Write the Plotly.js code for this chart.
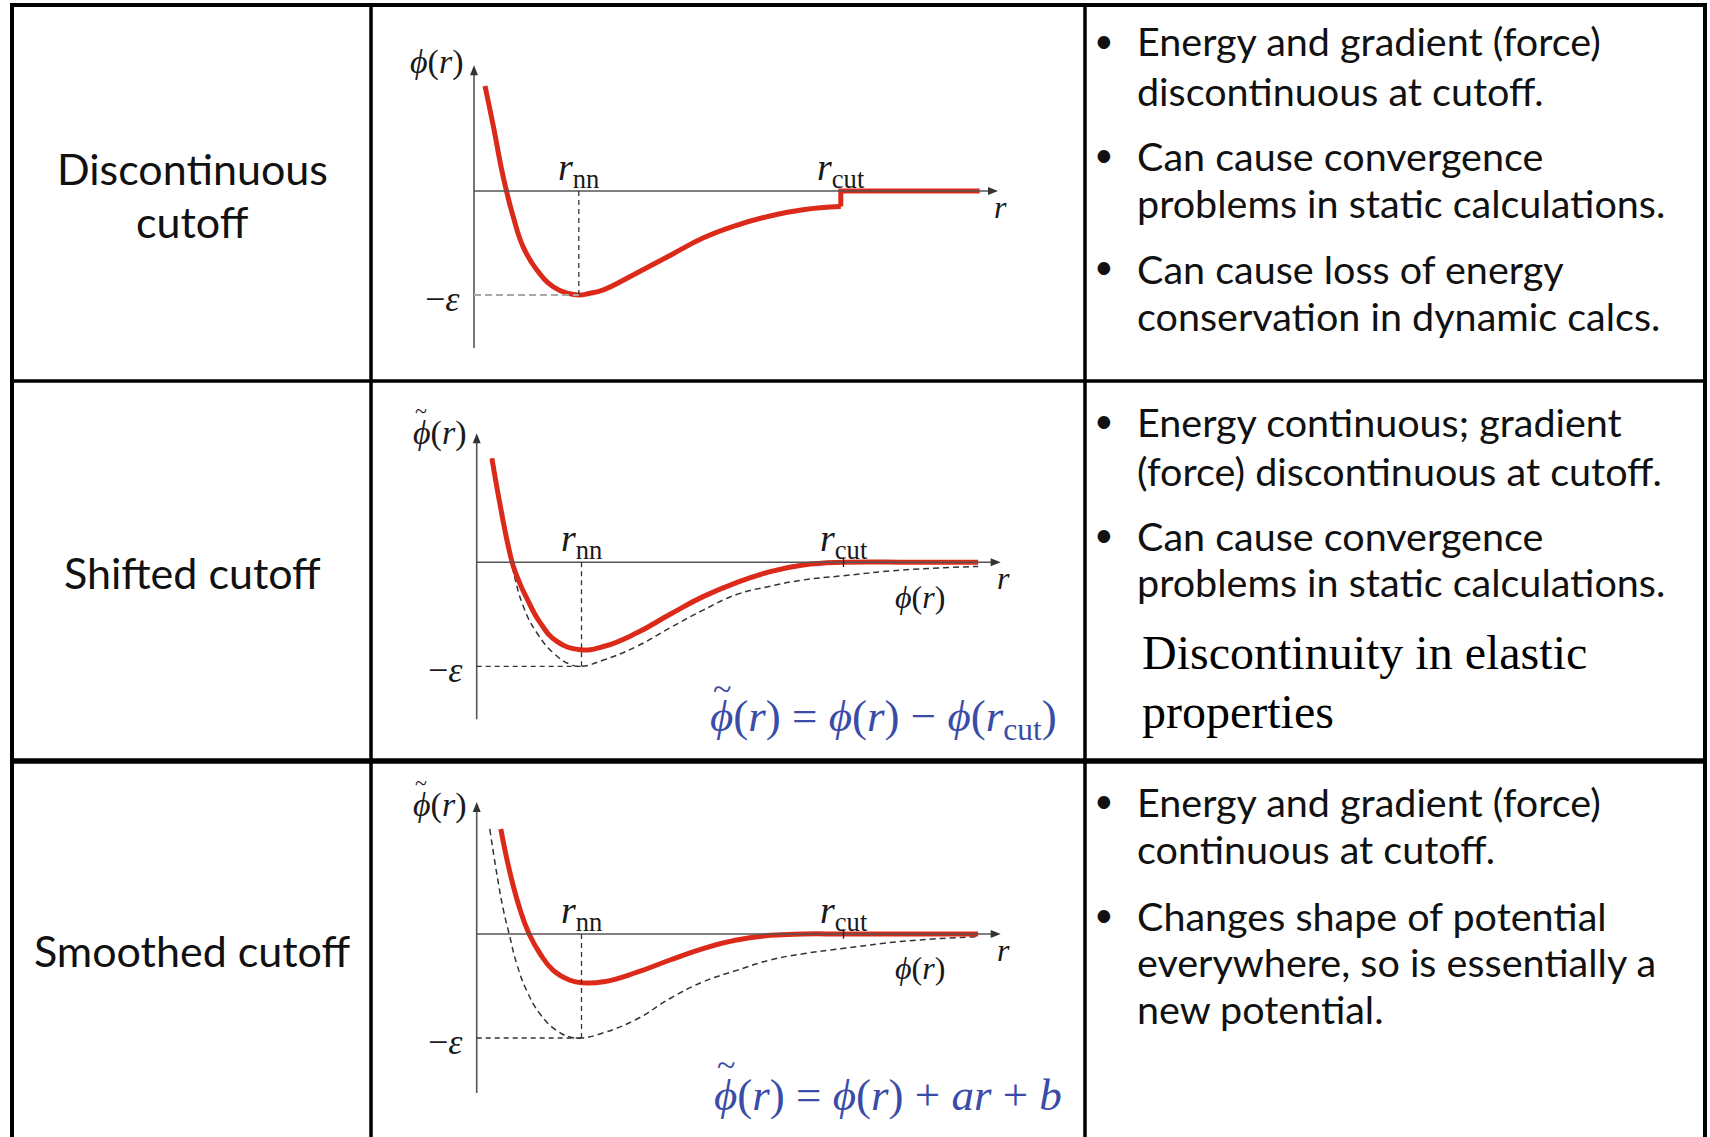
<!DOCTYPE html>
<html>
<head>
<meta charset="utf-8">
<script src="https://cdn.plot.ly/plotly-3.0.1.min.js"></script>
<style>
  html, body { margin: 0; padding: 0; background: #ffffff; }
  #chart { width: 1710px; height: 1137px; }
</style>
</head>
<body>
<div id="chart"></div>
<script>
// ---------- page size ----------
const W = 1710, H = 1137;

// ---------- key radii (plot units) ----------
const R_NN = 2.0;
const R_CUT = 7.0;
const R_END = 10.0;
const MINUS_EPS = -1.0;

// ---------- row 1: plain truncation, jump at r_cut ----------
const rDisc   = [0.21, 0.37, 0.53, 0.62, 0.75, 0.94, 1.20, 1.51, 1.80, 2.00, 2.20, 2.47, 3.10, 3.74, 4.38, 5.01, 5.65, 6.28, 7.00];
const phiDisc = [1.01, 0.62, 0.20, 0.00, -0.25, -0.54, -0.76, -0.92, -0.985, -1.00, -0.985, -0.95, -0.79, -0.62, -0.45, -0.33, -0.24, -0.18, -0.15];
const rDiscTail   = [7.00, 7.00, 9.65];
const phiDiscTail = [-0.15, 0.00, 0.00];

// ---------- row 2: shifted potential and the original phi(r) ----------
const rShift   = [0.29, 0.44, 0.60, 0.70, 0.82, 0.95, 1.21, 1.53, 1.97, 2.42, 3.05, 3.69, 4.32, 4.96, 5.60, 6.23, 7.00, 8.30, 9.57];
const phiShift = [1.00, 0.57, 0.16, -0.04, -0.20, -0.34, -0.58, -0.76, -0.84, -0.81, -0.68, -0.50, -0.33, -0.195, -0.09, -0.026, 0.00, 0.00, 0.00];
const rPhi2    = [0.29, 0.45, 0.66, 0.89, 1.15, 1.46, 1.78, 2.00, 2.42, 3.05, 3.69, 4.32, 4.96, 5.60, 6.23, 6.98, 8.14, 9.57];
const phiPhi2  = [1.00, 0.50, 0.00, -0.425, -0.68, -0.87, -0.98, -1.00, -0.94, -0.81, -0.63, -0.46, -0.31, -0.23, -0.17, -0.13, -0.074, -0.04];

// ---------- row 3: smoothed potential and the original phi(r) ----------
const rSmooth   = [0.46, 0.635, 0.83, 1.00, 1.21, 1.46, 1.78, 2.03, 2.42, 3.05, 3.69, 4.32, 4.96, 5.60, 6.23, 7.00, 8.30, 9.57];
const phiSmooth = [1.01, 0.59, 0.23, 0.00, -0.19, -0.35, -0.445, -0.47, -0.46, -0.37, -0.25, -0.14, -0.058, -0.013, 0.00, 0.00, 0.00, 0.00];
const rPhi3     = [0.25, 0.38, 0.51, 0.62, 0.76, 0.95, 1.21, 1.53, 1.78, 2.00, 2.42, 3.05, 3.69, 4.32, 4.96, 5.60, 6.23, 6.98, 8.14, 9.57];
const phiPhi3   = [1.01, 0.59, 0.23, 0.00, -0.28, -0.54, -0.77, -0.93, -0.99, -1.00, -0.95, -0.82, -0.62, -0.46, -0.35, -0.25, -0.19, -0.14, -0.07, -0.026];

// ---------- table text ----------
const rowLabels = [["Discontinuous", "cutoff"], ["Shifted cutoff"], ["Smoothed cutoff"]];
const notesRow1 = [
  ["Energy and gradient (force)", "discontinuous at cutoff."],
  ["Can cause convergence", "problems in static calculations."],
  ["Can cause loss of energy", "conservation in dynamic calcs."]
];
const notesRow2 = [
  ["Energy continuous; gradient", "(force) discontinuous at cutoff."],
  ["Can cause convergence", "problems in static calculations."]
];
const remarkRow2 = ["Discontinuity in elastic", "properties"];
const notesRow3 = [
  ["Energy and gradient (force)", "continuous at cutoff."],
  ["Changes shape of potential", "everywhere, so is essentially a", "new potential."]
];

// ---------- geometry helpers ----------
const PXU = 52.4;   // pixels per r unit
const PYU = 104;    // pixels per phi unit
const XR = [-1.5, 10.5];
const YR = [-1.7, 1.5];
const px = v => v / W;
const py = v => 1 - v / H;
function xDomain(originPx) {
  return [(originPx + XR[0] * PXU) / W, (originPx + XR[1] * PXU) / W];
}
function yDomain(zeroPx) {
  return [1 - (zeroPx - YR[0] * PYU) / H, 1 - (zeroPx - YR[1] * PYU) / H];
}

const panels = [
  { xo: 474.0, yz: 191.0, yTop: 1.21, yBot: -1.51 },
  { xo: 476.7, yz: 562.3, yTop: 1.24, yBot: -1.51 },
  { xo: 476.7, yz: 934.0, yTop: 1.27, yBot: -1.53 }
];

const RED = '#dc2a1a';
const AXC = '#555555';
const DASHC = '#333333';
const MATH = '"Liberation Serif", "DejaVu Serif", serif';
const SANS = 'Lato, "Open Sans", sans-serif';
const BLUE = '#3a4ca8';

const layout = {
  width: W, height: H,
  margin: { l: 0, r: 0, t: 0, b: 0 },
  paper_bgcolor: '#ffffff',
  plot_bgcolor: 'rgba(0,0,0,0)',
  showlegend: false,
  shapes: [],
  annotations: []
};

panels.forEach((p, i) => {
  const k = i === 0 ? '' : String(i + 1);
  const axCommon = { visible: false, fixedrange: true, showgrid: false, zeroline: false };
  layout['xaxis' + k] = Object.assign({ domain: xDomain(p.xo), range: XR, anchor: 'y' + k }, axCommon);
  layout['yaxis' + k] = Object.assign({ domain: yDomain(p.yz), range: YR, anchor: 'x' + k }, axCommon);
});

const traces = [];
function addLine(k, xs, ys, line) {
  traces.push({ type: 'scatter', mode: 'lines', x: xs, y: ys, xaxis: 'x' + k, yaxis: 'y' + k,
                line: line, hoverinfo: 'skip', cliponaxis: false });
}
const redLine = { color: RED, width: 5, shape: 'spline', smoothing: 1.3 };
const dashLine = { color: DASHC, width: 1.5, dash: '6px,4px', shape: 'spline', smoothing: 1.3 };

// row 1
addLine('', rDisc, phiDisc, redLine);
addLine('', rDiscTail, phiDiscTail, { color: RED, width: 5, shape: 'linear' });
// row 2
addLine('2', rPhi2, phiPhi2, dashLine);
addLine('2', rShift, phiShift, redLine);
// row 3
addLine('3', rPhi3, phiPhi3, dashLine);
addLine('3', rSmooth, phiSmooth, redLine);

// ---------- axes, guides and labels inside each plot ----------
const HEAD_LEN = 10, HEAD_HALF = 4;   // arrowhead size in pixels
panels.forEach((p, i) => {
  const k = i === 0 ? '' : String(i + 1);
  const xr = 'x' + k, yr = 'y' + k;
  const axLine = { color: AXC, width: 1.6 };
  // vertical axis
  layout.shapes.push({ type: 'line', xref: xr, yref: yr, x0: 0, x1: 0, y0: p.yBot, y1: p.yTop - HEAD_LEN / PYU * 0.5, line: axLine });
  layout.shapes.push({ type: 'path', xref: xr, yref: yr, line: { width: 0 }, fillcolor: '#333',
    path: `M 0 ${p.yTop} L ${-HEAD_HALF / PXU} ${p.yTop - HEAD_LEN / PYU} L ${HEAD_HALF / PXU} ${p.yTop - HEAD_LEN / PYU} Z` });
  // horizontal axis
  layout.shapes.push({ type: 'line', xref: xr, yref: yr, x0: 0, x1: R_END - HEAD_LEN / PXU * 0.5, y0: 0, y1: 0, line: axLine });
  layout.shapes.push({ type: 'path', xref: xr, yref: yr, line: { width: 0 }, fillcolor: '#333',
    path: `M ${R_END} 0 L ${R_END - HEAD_LEN / PXU} ${HEAD_HALF / PYU} L ${R_END - HEAD_LEN / PXU} ${-HEAD_HALF / PYU} Z` });
  // guides to the minimum
  layout.shapes.push({ type: 'line', xref: xr, yref: yr, x0: R_NN, x1: R_NN, y0: 0, y1: MINUS_EPS,
    line: { color: DASHC, width: 1.3, dash: '5px,4px' } });
  layout.shapes.push({ type: 'line', xref: xr, yref: yr, x0: 0, x1: R_NN, y0: MINUS_EPS, y1: MINUS_EPS,
    line: i === 0 ? { color: '#a8a8a8', width: 2.2, dash: '7px,4px' } : { color: DASHC, width: 1.3, dash: '5px,4px' } });
  if (i > 0) {
    layout.shapes.push({ type: 'line', xref: xr, yref: yr, x0: R_CUT, x1: R_CUT, y0: -0.045, y1: 0.045,
      line: { color: '#222', width: 1.3 } });
  }
  const mfont = (s) => ({ family: MATH, size: s, color: '#1a1a1a' });
  layout.annotations.push({ xref: xr, yref: yr, x: -0.70, y: 1.24, text: '<i>ϕ</i>(<i>r</i>)', showarrow: false, font: mfont(34) });
  if (i > 0) {
    layout.annotations.push({ xref: xr, yref: yr, x: -1.07, y: 1.46, text: '~', showarrow: false, font: mfont(22) });
  }
  layout.annotations.push({ xref: xr, yref: yr, x: R_NN, y: 0.20, text: '<i>r</i><sub>nn</sub>', showarrow: false, font: mfont(38) });
  layout.annotations.push({ xref: xr, yref: yr, x: R_CUT, y: 0.20, text: '<i>r</i><sub>cut</sub>', showarrow: false, font: mfont(38) });
  layout.annotations.push({ xref: xr, yref: yr, x: -0.60, y: -1.04, text: '−<i>ε</i>', showarrow: false, font: mfont(36) });
  layout.annotations.push({ xref: xr, yref: yr, x: 10.05, y: -0.15, text: '<i>r</i>', showarrow: false, font: mfont(32) });
  if (i > 0) {
    layout.annotations.push({ xref: xr, yref: yr, x: 8.46, y: -0.33, text: '<i>ϕ</i>(<i>r</i>)', showarrow: false, font: mfont(32) });
  }
});

// formulas
const formulas = [
  { text: '<i>ϕ</i>(<i>r</i>) = <i>ϕ</i>(<i>r</i>) − <i>ϕ</i>(<i>r</i><sub>cut</sub>)', x: 708, y: 719, tx: 722, ty: 688 },
  { text: '<i>ϕ</i>(<i>r</i>) = <i>ϕ</i>(<i>r</i>) + <i>ar</i> + <i>b</i>', x: 712, y: 1095, tx: 726, ty: 1064 }
];
formulas.forEach(f => {
  layout.annotations.push({ xref: 'paper', yref: 'paper', x: px(f.x), y: py(f.y), xanchor: 'left', yanchor: 'middle',
    text: f.text, showarrow: false, font: { family: MATH, size: 45, color: BLUE } });
  layout.annotations.push({ xref: 'paper', yref: 'paper', x: px(f.tx), y: py(f.ty), xanchor: 'center', yanchor: 'middle',
    text: '~', showarrow: false, font: { family: MATH, size: 34, color: BLUE } });
});

// ---------- table frame ----------
const frame = [
  [12, 4, 12, 1137, 4], [1705, 4, 1705, 1137, 4],
  [371, 4, 371, 1137, 3.5], [1085, 4, 1085, 1137, 3.5],
  [10, 5, 1707, 5, 4], [10, 381, 1707, 381, 3.5], [10, 761, 1707, 761, 5.5]
];
frame.forEach(f => layout.shapes.push({ type: 'line', xref: 'paper', yref: 'paper',
  x0: px(f[0]), y0: py(f[1]), x1: px(f[2]), y1: py(f[3]), line: { color: '#000', width: f[4] } }));

// ---------- left column labels ----------
const labelY = [[169, 222], [572], [950]];
rowLabels.forEach((lines, i) => lines.forEach((t, j) => {
  layout.annotations.push({ xref: 'paper', yref: 'paper', x: px(192), y: py(labelY[i][j]), xanchor: 'center', yanchor: 'middle',
    text: t, showarrow: false, font: { family: SANS, size: 43, color: '#111' } });
}));

// ---------- right column notes ----------
function addNotes(groups, ys) {
  let n = 0;
  groups.forEach(g => {
    g.forEach((t, j) => {
      const y = ys[n++];
      if (j === 0) {
        layout.annotations.push({ xref: 'paper', yref: 'paper', x: px(1104), y: py(y - 2), xanchor: 'center', yanchor: 'middle',
          text: '•', showarrow: false, font: { family: SANS, size: 34, color: '#111' } });
      }
      layout.annotations.push({ xref: 'paper', yref: 'paper', x: px(1135), y: py(y), xanchor: 'left', yanchor: 'middle',
        text: t, showarrow: false, font: { family: SANS, size: 39.5, color: '#111' } });
    });
  });
}
addNotes(notesRow1, [41, 90, 155, 203, 268, 316]);
addNotes(notesRow2, [421, 470, 535, 581]);
addNotes(notesRow3, [801, 848, 915, 961, 1008]);
remarkRow2.forEach((t, j) => {
  layout.annotations.push({ xref: 'paper', yref: 'paper', x: px(1140), y: py([652, 711][j]), xanchor: 'left', yanchor: 'middle',
    text: t, showarrow: false, font: { family: '"Liberation Serif", "Times New Roman", serif', size: 48, color: '#000' } });
});

Plotly.newPlot('chart', traces, layout, { displayModeBar: false, staticPlot: true });
</script>
</body>
</html>
